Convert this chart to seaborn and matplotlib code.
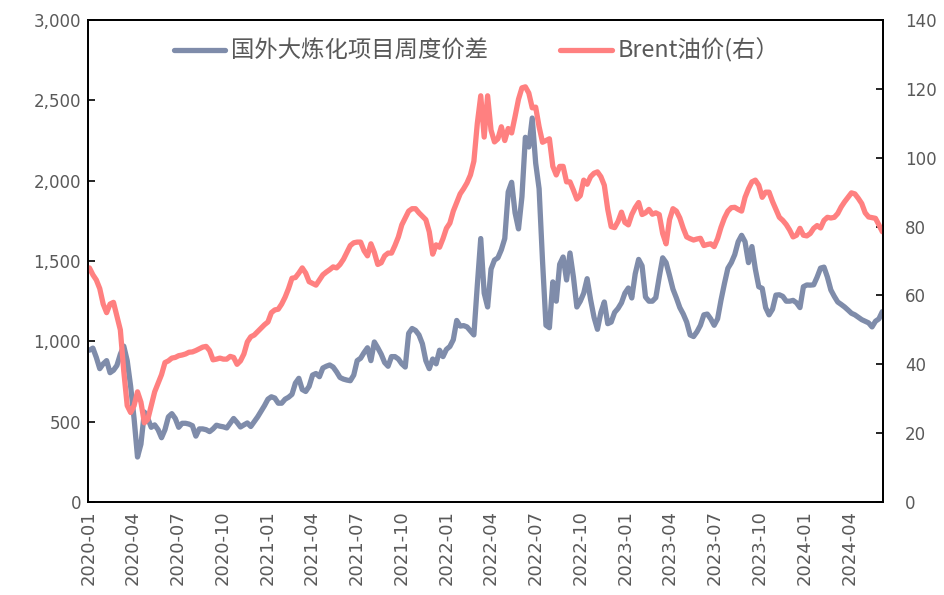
import pandas as pd
import matplotlib
matplotlib.use("Agg")
import matplotlib.pyplot as plt
import matplotlib.dates as mdates
from matplotlib.ticker import FuncFormatter, MultipleLocator
import seaborn as sns

# -----------------------------
# DATA (weekly)
# -----------------------------
weeks = pd.date_range("2020-01-03", periods=232, freq="7D")

spread = [
    945, 958, 900, 830, 860, 880, 805, 820, 850, 920,
    970, 880, 720, 520, 280, 360, 560, 520, 465, 480,
    450, 400, 450, 530, 550, 520, 465, 490, 490, 485,
    475, 410, 455, 455, 450, 438, 455, 478, 472, 468,
    461, 490, 520, 495, 467, 480, 492, 470, 500, 530,
    565, 600, 640, 655, 647, 615, 615, 640, 652, 670,
    740, 770, 700, 688, 720, 790, 800, 780, 834, 845,
    853, 840, 810, 775, 765, 759, 755, 790, 880, 895,
    930, 960, 880, 996, 960, 920, 868, 845, 905, 905,
    890, 860, 840, 1050, 1080, 1068, 1040, 985, 880, 830,
    890, 860, 945, 905, 950, 968, 1010, 1130, 1095, 1098,
    1090, 1065, 1040, 1350, 1640, 1300, 1214, 1450, 1506, 1520,
    1570, 1640, 1930, 1990, 1800, 1700, 1900, 2270, 2210, 2390,
    2110, 1950, 1500, 1100, 1085, 1370, 1250, 1480, 1525, 1382,
    1550, 1400, 1214, 1250, 1300, 1390, 1260, 1150, 1075, 1180,
    1245, 1110, 1120, 1180, 1205, 1240, 1300, 1332, 1270, 1420,
    1510, 1470, 1276, 1250, 1250, 1272, 1400, 1520, 1490, 1410,
    1325, 1270, 1210, 1170, 1120, 1040, 1030, 1060, 1100, 1165,
    1170, 1140, 1100, 1140, 1257, 1360, 1455, 1490, 1540, 1620,
    1660, 1620, 1490, 1590, 1450, 1340, 1330, 1210, 1165, 1200,
    1288, 1290, 1280, 1250, 1250, 1255, 1240, 1210, 1340, 1351,
    1350, 1352, 1400, 1456, 1462, 1400, 1320, 1280, 1245, 1230,
    1214, 1195, 1175, 1165, 1150, 1135, 1125, 1115, 1090, 1125,
    1140, 1185,
]

brent = [
    68, 66, 64.5, 62, 57.5, 55, 57.5, 58, 54, 50,
    38, 28, 26, 28, 32, 29, 23, 24, 28, 32,
    34.5, 37, 40.5, 41, 41.8, 42, 42.5, 42.7, 43, 43.5,
    43.6, 44, 44.5, 45, 45.2, 44, 41.3, 41.5, 41.8, 41.5,
    41.5, 42.3, 42, 40, 41, 43, 46.5, 48, 48.5, 49.5,
    50.5, 51.5, 52.3, 55, 55.8, 56, 57.5, 59.5, 62, 65,
    65.2, 66.5, 68, 66.5, 64, 63.5, 63, 64.5, 66, 66.8,
    67.5, 68.3, 68, 69, 70.5, 72.5, 74.5, 75.3, 75.5, 75.5,
    73, 71.5, 75, 72.5, 69, 69.5, 71.5, 72.3, 72.3, 74.5,
    77, 80.5, 82.5, 84.5, 85.2, 85.2, 84, 83, 82, 78.5,
    72, 74.7, 74, 76.5, 79.5, 81, 84.5, 87, 89.5, 91,
    92.7, 95, 99, 110, 118, 106, 118, 108, 104.6, 105.5,
    109, 105, 108.5, 107.2, 112, 117, 120.3, 120.6, 118.8, 114.5,
    114.7, 109, 104.5, 105, 105.5, 97.5, 95, 97.5, 97.5, 93,
    93, 90.6, 88, 89, 93.5, 92.3, 94.5, 95.5, 95.9, 94.5,
    92, 85, 80, 79.7, 81.5, 84.2, 81.2, 80.5, 83.5, 85.5,
    87, 83.5, 84, 85, 83.6, 84, 83.5, 78, 75, 82,
    85.2, 84.5, 82.5, 79.5, 77, 76.5, 76.1, 76.4, 76.6, 74.5,
    74.8, 75, 74.2, 76.5, 79.8, 82.5, 84.5, 85.5, 85.6, 85,
    84.5, 88.5, 91, 93, 93.5, 92, 88.5, 90, 90, 87.3,
    85, 82.7, 81.8, 80.6, 79, 77, 77.5, 79.5, 77.5, 77.3,
    78, 79.5, 80.3, 79.6, 81.8, 82.7, 82.5, 82.7, 83.8, 85.7,
    87.2, 88.5, 89.8, 89.5, 88.2, 86.7, 84, 82.8, 82.6, 82.4,
    80.5, 78.5,
]

df = pd.DataFrame({"week": weeks, "spread": spread, "brent": brent})

SPREAD_LABEL = "国外大炼化项目周度价差"
BRENT_LABEL = "Brent油价(右）"
BLUE = "#7F8CAA"
RED = "#FF8080"
GREY = "#595959"

# -----------------------------
# STYLE
# -----------------------------
sns.set_style("white")
plt.rcParams["font.family"] = ["Noto Sans CJK SC", "DejaVu Sans"]

fig = plt.figure(figsize=(9.44, 5.95), dpi=100)
ax = fig.add_axes([0.0932, 0.1563, 0.842, 0.81])
ax2 = ax.twinx()

# -----------------------------
# LINES
# -----------------------------
sns.lineplot(data=df, x="week", y="spread", ax=ax, color=BLUE,
             linewidth=3.8, label=SPREAD_LABEL, legend=False)
sns.lineplot(data=df, x="week", y="brent", ax=ax2, color=RED,
             linewidth=3.8, label=BRENT_LABEL, legend=False)

# -----------------------------
# AXES
# -----------------------------
ax.set_ylim(0, 3000)
ax.yaxis.set_major_locator(MultipleLocator(500))
ax.yaxis.set_major_formatter(FuncFormatter(lambda v, p: f"{int(v):,}"))
ax2.set_ylim(0, 140)
ax2.yaxis.set_major_locator(MultipleLocator(20))

ax.set_xlim(pd.Timestamp("2019-12-31"), pd.Timestamp("2024-06-08"))
ax.xaxis.set_major_locator(mdates.MonthLocator(bymonth=[1, 4, 7, 10]))
ax.xaxis.set_major_formatter(mdates.DateFormatter("%Y-%m"))

for a in (ax, ax2):
    a.set_xlabel("")
    a.set_ylabel("")
    a.tick_params(direction="in", length=5, width=1.2, colors="black",
                  labelcolor=GREY, labelsize=12)
    for s in a.spines.values():
        s.set_color("black")
        s.set_linewidth(1.3)
ax.tick_params(axis="x", labelrotation=90, labelsize=13, pad=6)
ax.tick_params(axis="y", pad=5)
ax2.tick_params(axis="y", pad=16)

tick_font = ["DejaVu Sans"]
for lbl in ax.get_xticklabels() + ax.get_yticklabels() + ax2.get_yticklabels():
    lbl.set_family(tick_font)

# -----------------------------
# LEGEND
# -----------------------------
h1, l1 = ax.get_legend_handles_labels()
h2, l2 = ax2.get_legend_handles_labels()
leg = ax2.legend(h1 + h2, l1 + l2, loc="center", bbox_to_anchor=(0.489, 0.937),
                 ncol=2, frameon=False, fontsize=16.8, handlelength=2.2,
                 handletextpad=0.25, columnspacing=3.1)
for t in leg.get_texts():
    t.set_color(GREY)

fig.savefig("out.png", dpi=100)
plt.close(fig)
